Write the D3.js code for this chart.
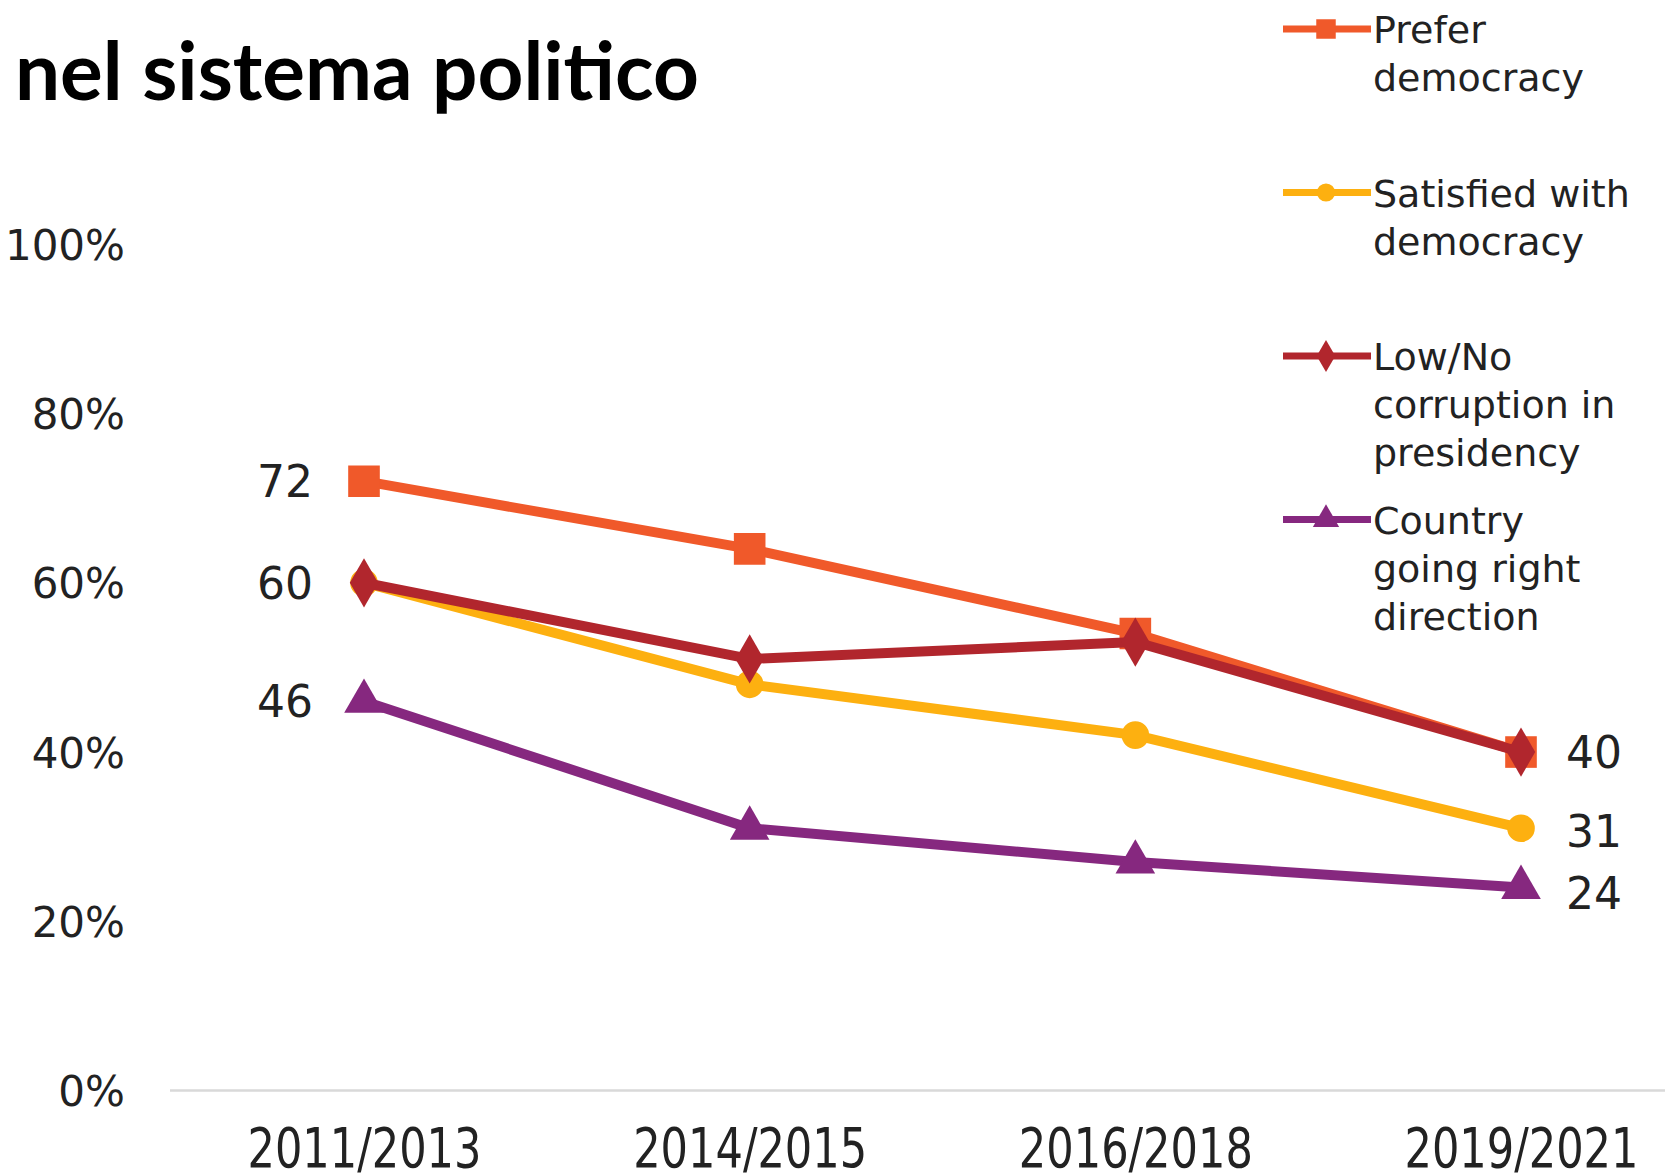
<!DOCTYPE html>
<html>
<head>
<meta charset="utf-8">
<script src="https://cdn.jsdelivr.net/npm/d3@7"></script>
<style>
  body { margin: 0; background: #fff; }
  svg { display: block; }
</style>
</head>
<body>
<div id="chart"></div>
<script>
// periods on the x axis
const periods = ['2011/2013', '2014/2015', '2016/2018', '2019/2021'];

// series values (percent)
const preferDemocracy = [72, 64, 54, 40];
const satisfiedDemocracy = [60, 48, 42, 31];
const lowCorruption = [60, 51, 53, 40];
const rightDirection = [46, 31, 27, 24];

const yTicks = [0, 20, 40, 60, 80, 100];

const seriesNames = [
    ['Prefer', 'democracy'],
    ['Satisfied with', 'democracy'],
    ['Low/No', 'corruption in', 'presidency'],
    ['Country', 'going right', 'direction']
];

const title = 'nel sistema politico';

const width = 1665;
const height = 1174;

const series = [
    { name: seriesNames[0], values: preferDemocracy, color: '#f0592a', symbol: d3.symbolSquare, size: 1000, legSize: 380 },
    { name: seriesNames[1], values: satisfiedDemocracy, color: '#fdb010', symbol: d3.symbolCircle, size: 600, legSize: 260 },
    { name: seriesNames[2], values: lowCorruption, color: '#b1262d', symbol: d3.symbolDiamond, size: 700, legSize: 300 },
    { name: seriesNames[3], values: rightDirection, color: '#86287f', symbol: d3.symbolTriangle, size: 680, legSize: 300 }
];

const svg = d3.select('#chart')
    .append('svg')
    .attr('width', width)
    .attr('height', height);

// title
svg.append('text')
    .attr('x', 15)
    .attr('y', 100)
    .style('font-family', 'Lato, sans-serif')
    .style('font-weight', 700)
    .style('font-size', '80px')
    .style('fill', '#000')
    .text(title);

const x = d3.scalePoint()
    .domain(periods)
    .range([364, 1521]);

const y = d3.scaleLinear()
    .domain([0, 100])
    .range([1090.6, 244.2]);

// baseline
svg.append('line')
    .attr('x1', 170)
    .attr('x2', width)
    .attr('y1', y(0))
    .attr('y2', y(0))
    .style('stroke', '#d9d9d9')
    .style('stroke-width', 2.5);

// y axis labels
const yAxis = d3.axisLeft(y)
    .tickValues(yTicks)
    .tickFormat(d => d + '%')
    .tickSize(0)
    .tickPadding(0);

const yg = svg.append('g')
    .attr('transform', 'translate(125,0)')
    .call(yAxis);
yg.select('.domain').remove();
yg.selectAll('text')
    .attr('dy', '0.36em')
    .style('font-family', '"DejaVu Sans", sans-serif')
    .style('font-size', '42px')
    .style('fill', '#222');

// x axis labels (narrow lettering, as in the source)
const xAxis = d3.axisBottom(x)
    .tickSize(0)
    .tickPadding(0);

const xg = svg.append('g')
    .attr('transform', 'translate(0,1126)')
    .call(xAxis);
xg.select('.domain').remove();
xg.selectAll('text')
    .attr('dy', '0.74em')
    .attr('textLength', 234)
    .attr('lengthAdjust', 'spacingAndGlyphs')
    .style('font-family', '"DejaVu Sans", sans-serif')
    .style('font-size', '55px')
    .style('fill', '#222');

const line = d3.line()
    .x((d, i) => x(periods[i]))
    .y(d => y(d));

// lines and markers
series.forEach(s => {
    const g = svg.append('g');
    g.append('path')
        .datum(s.values)
        .attr('d', line)
        .style('fill', 'none')
        .style('stroke', s.color)
        .style('stroke-width', 10)
        .style('stroke-linejoin', 'round');
    g.selectAll('path.marker')
        .data(s.values)
        .enter()
        .append('path')
        .attr('class', 'marker')
        .attr('d', d3.symbol().type(s.symbol).size(s.size))
        .attr('transform', (d, i) => `translate(${x(periods[i])},${y(d)})`)
        .style('fill', s.color);
});

// value labels at first and last period
const labelStyle = sel => sel
    .style('font-family', '"DejaVu Sans", sans-serif')
    .style('font-size', '44px')
    .style('fill', '#222');

const firstVals = [preferDemocracy[0], satisfiedDemocracy[0], rightDirection[0]];
svg.selectAll('text.first')
    .data(firstVals)
    .enter()
    .append('text')
    .attr('class', 'first')
    .attr('x', x(periods[0]) - 51)
    .attr('y', d => y(d))
    .attr('dy', '0.36em')
    .attr('text-anchor', 'end')
    .call(labelStyle)
    .text(d => d);

const lastVals = [preferDemocracy[3], satisfiedDemocracy[3], rightDirection[3]];
const lastOffsets = [0, 3, 6];
svg.selectAll('text.last')
    .data(lastVals)
    .enter()
    .append('text')
    .attr('class', 'last')
    .attr('x', x(periods[3]) + 45)
    .attr('y', (d, i) => y(d) + lastOffsets[i])
    .attr('dy', '0.36em')
    .call(labelStyle)
    .text(d => d);

// legend
const legend = svg.append('g')
    .attr('transform', 'translate(1283,29)');

series.forEach((s, i) => {
    const g = legend.append('g')
        .attr('transform', `translate(0,${i * 163.5})`);
    g.append('line')
        .attr('x1', 0)
        .attr('x2', 88)
        .style('stroke', s.color)
        .style('stroke-width', 7);
    g.append('path')
        .attr('d', d3.symbol().type(s.symbol).size(s.legSize))
        .attr('transform', 'translate(43,0)')
        .style('fill', s.color);
    g.selectAll('text')
        .data(s.name)
        .enter()
        .append('text')
        .attr('x', 90)
        .attr('y', (d, j) => 14 + j * 48)
        .style('font-family', '"DejaVu Sans", sans-serif')
        .style('font-size', '38px')
        .style('fill', '#222')
        .text(d => d);
});
</script>
</body>
</html>
